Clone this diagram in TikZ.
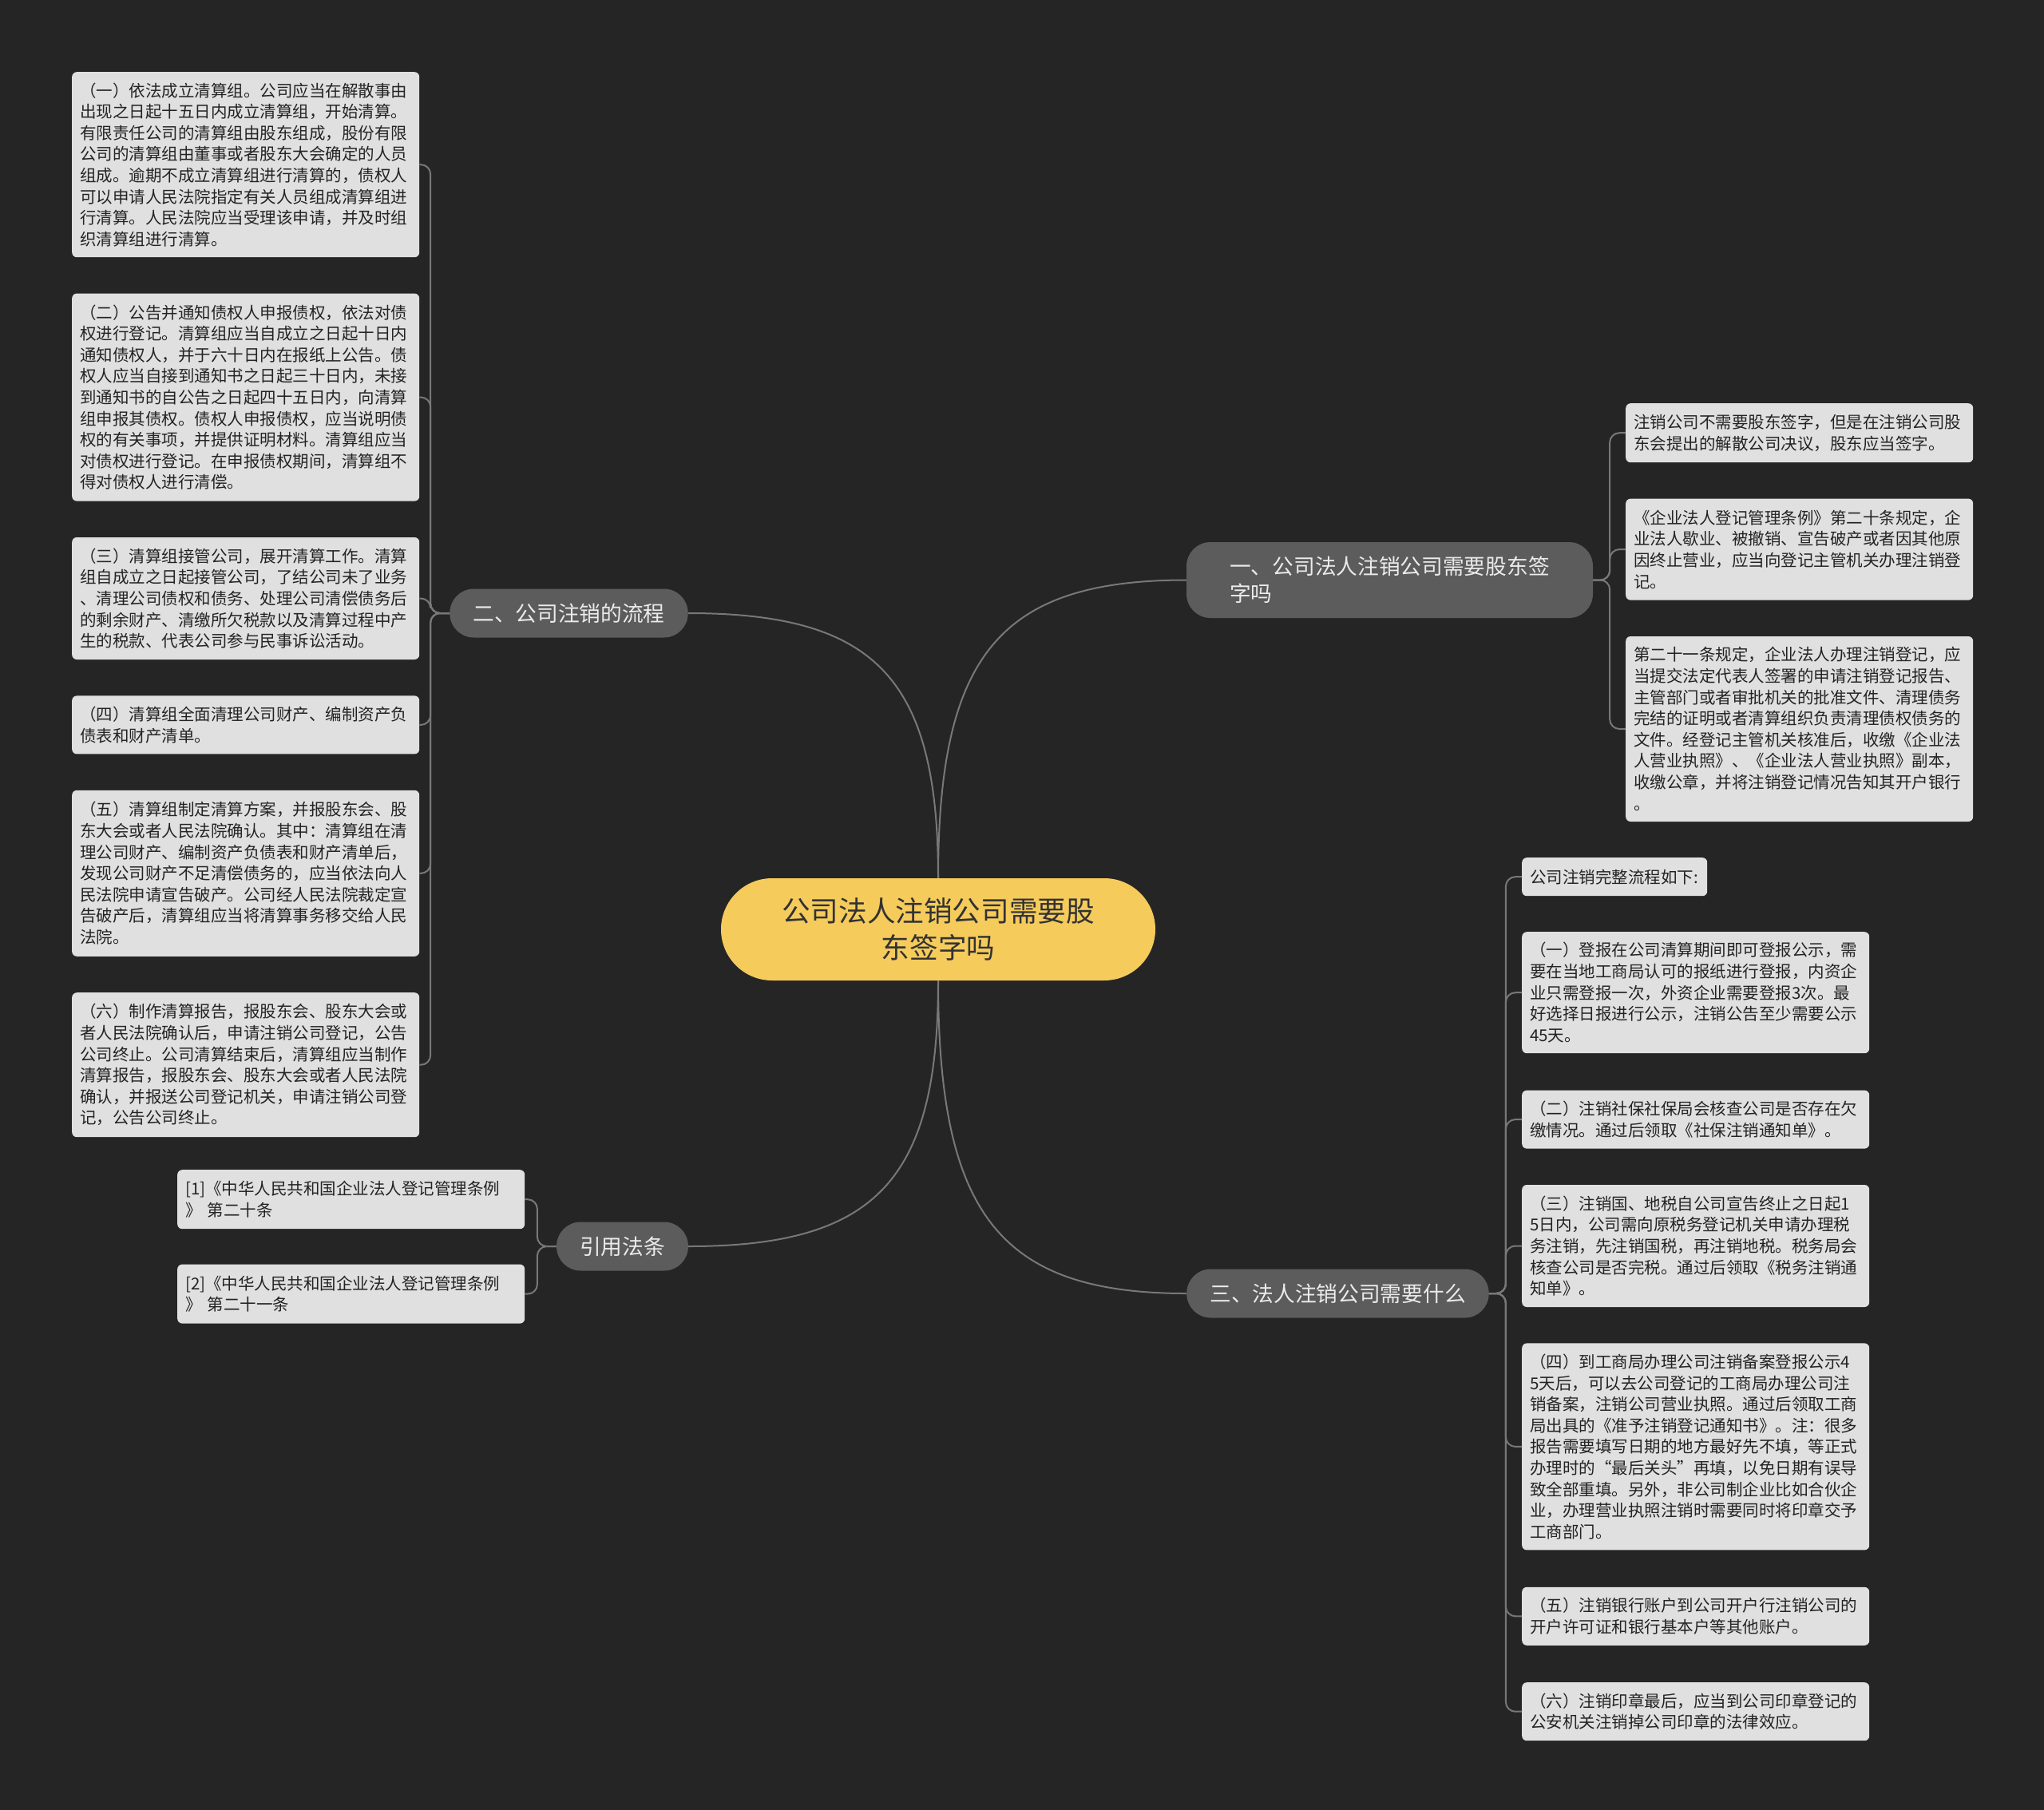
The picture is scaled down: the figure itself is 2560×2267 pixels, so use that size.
\documentclass[tikz,border=0pt]{standalone}
\usepackage{fontspec}
\setmainfont{Noto Sans CJK SC}
\usetikzlibrary{positioning}
\definecolor{bgdark}{RGB}{37,37,37}
\definecolor{leafbg}{RGB}{224,224,224}
\definecolor{leaftext}{RGB}{35,35,35}
\definecolor{topicbg}{RGB}{92,92,92}
\definecolor{topictext}{RGB}{235,235,235}
\definecolor{rootbg}{RGB}{245,203,92}
\definecolor{roottext}{RGB}{50,50,50}
\definecolor{linkgray}{RGB}{120,120,120}
\begin{document}
\begin{tikzpicture}[
    x=1pt, y=-1pt,
    root/.style={fill=rootbg, text=roottext, rounded corners=64pt, minimum width=544pt,
                 minimum height=128pt, align=center, font=\fontsize{35.6pt}{45.7pt}\selectfont},
    topic/.style={fill=topicbg, text=topictext, rounded corners=30pt, inner xsep=29pt,
                  minimum height=61pt, font=\fontsize{26.7pt}{34pt}\selectfont},
    leaf/.style={fill=leafbg, text=leaftext, rounded corners=6pt, align=left, inner xsep=10pt,
                 inner ysep=4pt, text width=415pt, minimum height=#1,
                 font=\fontsize{20.5pt}{26.6pt}\selectfont},
    link/.style={draw=linkgray, line width=2pt},
    elbow/.style={link, rounded corners=12pt},
]
  % Background
  \fill[bgdark] (0,0) rectangle (2560,2267);

  % Root and main topics
  \node[root] (c) at (1175,1164) {公司法人注销公司需要股\\东签字吗};
  \node[topic, minimum width=509pt, minimum height=95pt, align=left] (b1) at (1740.5,726.5)
       {一、公司法人注销公司需要股东签\\字吗};
  \node[topic] (b2) at (712.5,768) {二、公司注销的流程};
  \node[topic] (b3) at (1675.5,1620) {三、法人注销公司需要什么};
  \node[topic] (b4) at (779.5,1561) {引用法条};

  % Left column: steps
  \node[leaf=232pt, anchor=north west] (l1) at (90,90) {（一）依法成立清算组。公司应当在解散事由\\出现之日起十五日内成立清算组，开始清算。\\有限责任公司的清算组由股东组成，股份有限\\公司的清算组由董事或者股东大会确定的人员\\组成。逾期不成立清算组进行清算的，债权人\\可以申请人民法院指定有关人员组成清算组进\\行清算。人民法院应当受理该申请，并及时组\\织清算组进行清算。};
  \node[leaf=260pt, below=45pt of l1] (l2) {（二）公告并通知债权人申报债权，依法对债\\权进行登记。清算组应当自成立之日起十日内\\通知债权人，并于六十日内在报纸上公告。债\\权人应当自接到通知书之日起三十日内，未接\\到通知书的自公告之日起四十五日内，向清算\\组申报其债权。债权人申报债权，应当说明债\\权的有关事项，并提供证明材料。清算组应当\\对债权进行登记。在申报债权期间，清算组不\\得对债权人进行清偿。};
  \node[leaf=153pt, below=45pt of l2] (l3) {（三）清算组接管公司，展开清算工作。清算\\组自成立之日起接管公司，了结公司未了业务\\、清理公司债权和债务、处理公司清偿债务后\\的剩余财产、清缴所欠税款以及清算过程中产\\生的税款、代表公司参与民事诉讼活动。};
  \node[leaf=73pt, below=45pt of l3] (l4) {（四）清算组全面清理公司财产、编制资产负\\债表和财产清单。};
  \node[leaf=208pt, below=45pt of l4] (l5) {（五）清算组制定清算方案，并报股东会、股\\东大会或者人民法院确认。其中：清算组在清\\理公司财产、编制资产负债表和财产清单后，\\发现公司财产不足清偿债务的，应当依法向人\\民法院申请宣告破产。公司经人民法院裁定宣\\告破产后，清算组应当将清算事务移交给人民\\法院。};
  \node[leaf=181pt, below=45pt of l5] (l6) {（六）制作清算报告，报股东会、股东大会或\\者人民法院确认后，申请注销公司登记，公告\\公司终止。公司清算结束后，清算组应当制作\\清算报告，报股东会、股东大会或者人民法院\\确认，并报送公司登记机关，申请注销公司登\\记，公告公司终止。};

  % Citations
  \node[leaf=74pt, anchor=north west] (q1) at (222,1465) {[1]《中华人民共和国企业法人登记管理条例\\》 第二十条};
  \node[leaf=74pt, below=44pt of q1] (q2) {[2]《中华人民共和国企业法人登记管理条例\\》 第二十一条};

  % Right top: signature
  \node[leaf=74pt, anchor=north west] (r1) at (2036,505) {注销公司不需要股东签字，但是在注销公司股\\东会提出的解散公司决议，股东应当签字。};
  \node[leaf=127pt, below=45pt of r1] (r2) {《企业法人登记管理条例》第二十条规定，企\\业法人歇业、被撤销、宣告破产或者因其他原\\因终止营业，应当向登记主管机关办理注销登\\记。};
  \node[leaf=232pt, below=45pt of r2] (r3) {第二十一条规定，企业法人办理注销登记，应\\当提交法定代表人签署的申请注销登记报告、\\主管部门或者审批机关的批准文件、清理债务\\完结的证明或者清算组织负责清理债权债务的\\文件。经登记主管机关核准后，收缴《企业法\\人营业执照》、《企业法人营业执照》副本，\\收缴公章，并将注销登记情况告知其开户银行\\。};

  % Right bottom: full procedure
  \node[leaf=48pt, text width=212pt, anchor=north west] (s0) at (1906,1074) {公司注销完整流程如下:};
  \node[leaf=152pt, anchor=north west] (s1) at (1906,1167) {（一）登报在公司清算期间即可登报公示，需\\要在当地工商局认可的报纸进行登报，内资企\\业只需登报一次，外资企业需要登报3次。最\\好选择日报进行公示，注销公告至少需要公示\\45天。};
  \node[leaf=73pt, below=46pt of s1] (s2) {（二）注销社保社保局会核查公司是否存在欠\\缴情况。通过后领取《社保注销通知单》。};
  \node[leaf=153pt, below=45pt of s2] (s3) {（三）注销国、地税自公司宣告终止之日起1\\5日内，公司需向原税务登记机关申请办理税\\务注销，先注销国税，再注销地税。税务局会\\核查公司是否完税。通过后领取《税务注销通\\知单》。};
  \node[leaf=259pt, below=45pt of s3] (s4) {（四）到工商局办理公司注销备案登报公示4\\5天后，可以去公司登记的工商局办理公司注\\销备案，注销公司营业执照。通过后领取工商\\局出具的《准予注销登记通知书》。注：很多\\报告需要填写日期的地方最好先不填，等正式\\办理时的“最后关头”再填，以免日期有误导\\致全部重填。另外，非公司制企业比如合伙企\\业，办理营业执照注销时需要同时将印章交予\\工商部门。};
  \node[leaf=73pt, below=46pt of s4] (s5) {（五）注销银行账户到公司开户行注销公司的\\开户许可证和银行基本户等其他账户。};
  \node[leaf=73pt, below=46pt of s5] (s6) {（六）注销印章最后，应当到公司印章登记的\\公安机关注销掉公司印章的法律效应。};

  % Root to topics
  \draw[link] (c.north) .. controls +(0,-280) and +(-233,0) .. (b1.west);
  \draw[link] (c.north) .. controls +(0,-250) and +(235,0) .. (b2.east);
  \draw[link] (c.south) .. controls +(0,250) and +(235,0) .. (b4.east);
  \draw[link] (c.south) .. controls +(0,294) and +(-233,0) .. (b3.west);

  % Topics to leaves
  \foreach \i in {1,...,6}
    \draw[elbow] (b2.west) -- ++(-24,0) |- (l\i.east);
  \foreach \i in {1,2}
    \draw[elbow] (b4.west) -- ++(-24,0) |- (q\i.east);
  \foreach \i in {1,2,3}
    \draw[elbow] (b1.east) -- ++(21,0) |- (r\i.west);
  \foreach \i in {0,...,6}
    \draw[elbow] (b3.east) -- ++(21,0) |- (s\i.west);
\end{tikzpicture}
\end{document}
